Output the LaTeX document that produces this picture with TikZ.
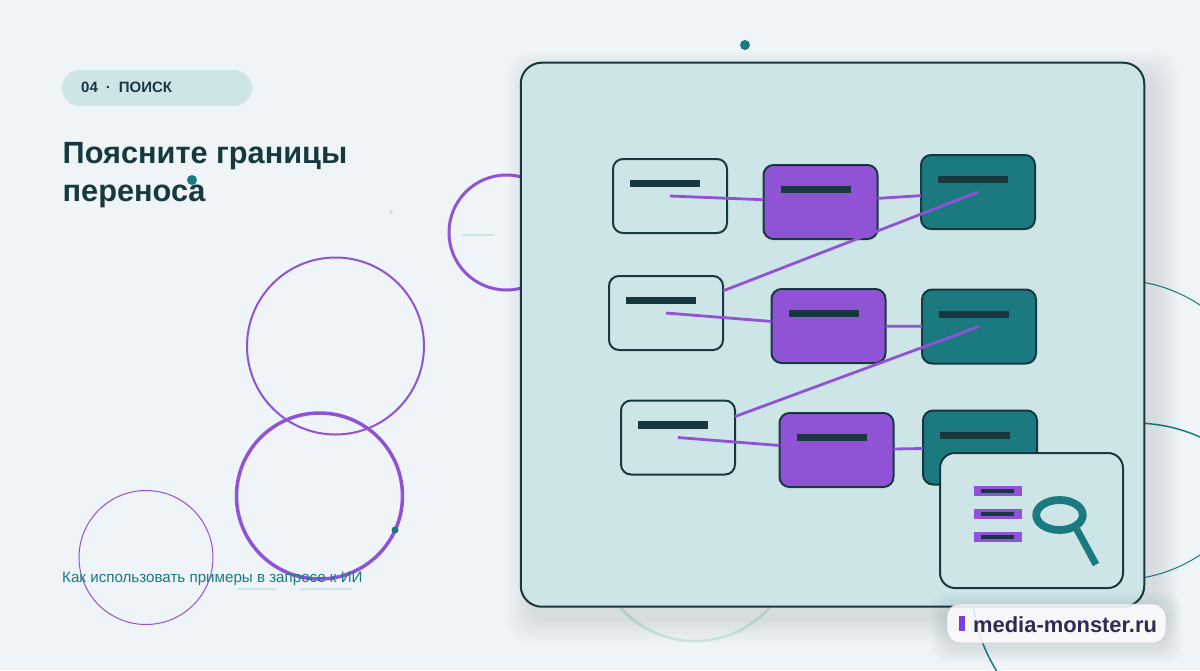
\documentclass[tikz,border=0pt]{standalone}
\usepackage{fontspec}
\setmainfont{Liberation Sans}
\definecolor{bgpage}{HTML}{EEF4F7}
\definecolor{pale}{HTML}{CEE5E7}
\definecolor{ink}{HTML}{17383F}
\definecolor{teal}{HTML}{1A7A80}
\definecolor{violet}{HTML}{9053D5}
\definecolor{sitetext}{HTML}{2F2B55}
\definecolor{siteaccent}{HTML}{7A3FE0}
\tikzset{
  srcbox/.style={draw=ink,line width=2pt,rounded corners=10pt,fill=pale,minimum width=114pt,minimum height=74pt,inner sep=0pt,outer sep=0pt},
  midbox/.style={srcbox,fill=violet},
  dstbox/.style={srcbox,fill=teal},
  barline/.style={fill=ink,minimum width=70pt,minimum height=7.5pt,inner sep=0pt,outer sep=0pt},
  tagbar/.style={fill=violet,minimum width=48pt,minimum height=9.5pt,inner sep=0pt,outer sep=0pt},
  tagline/.style={fill=ink,minimum width=33pt,minimum height=3.5pt,inner sep=0pt,outer sep=0pt},
  link/.style={draw=violet,line width=2.8pt},
  ring/.style={draw=violet},
  hair/.style={draw=pale,line width=1.5pt},
  dot/.style={fill=teal}
}
\begin{document}
\begin{tikzpicture}[x=1pt,y=-1pt]
    \useasboundingbox (0,0) rectangle (1200,670);
    \fill[bgpage] (0,0) rectangle (1200,670);
    % rings behind the panel
    \draw[ring,line width=3pt] (506.5,232.5) circle (57.5pt);
    \draw[ring,line width=2pt] (335.5,346) circle (88.5pt);
    \draw[ring,line width=3.5pt] (319.5,496) circle (83pt);
    \draw[ring,line width=1pt] (146,557.5) circle (67pt);
    \draw[teal,line width=1pt] (1117,430) circle (150pt);
    \draw[teal,line width=1.5pt] (1134,585) circle (162pt);
    \draw[pale,line width=2.5pt] (695,541) circle (100pt);
    \draw[hair] (462,235) -- (494,235);
    \draw[hair] (237,589) -- (276,589);
    \draw[hair] (300,589) -- (352,589);
    \fill[dot] (745,45) circle (5pt);
    \fill[dot] (192,180) circle (5pt);
    \fill[dot] (395,530) circle (3.5pt);
    \fill[pale] (391,212) circle (2pt);
    % left column
    \node[fill=pale,rounded corners=18pt,minimum width=190pt,minimum height=36pt,inner sep=0pt] (pill) at (157,88) {};
    \node[anchor=base west,inner sep=0pt,text=ink,font=\fontsize{15}{17}\selectfont\bfseries] (tag) at (81,92) {04\hspace{8pt}·\hspace{8pt}ПОИСК};
    \node[anchor=base west,inner sep=0pt,text=ink,font=\fontsize{30.7}{38}\selectfont\bfseries] (titleA) at (62.5,163) {Поясните границы};
    \node[anchor=base west,inner sep=0pt,text=ink,font=\fontsize{30.7}{38}\selectfont\bfseries] (titleB) at (62.5,201) {переноса};
    \node[anchor=base west,inner sep=0pt,text=teal,font=\fontsize{15.15}{18}\selectfont] (caption) at (62,582) {Как использовать примеры в запросе к ИИ};
    % panel
    \foreach \s in {2,4,...,24}
      \fill[ink,opacity=.009,rounded corners=22pt] (531-\s,75-\s) rectangle (1155+\s,619+\s);
    \node[draw=ink,line width=2pt,fill=pale,rounded corners=21pt,minimum width=623.5pt,minimum height=544pt,inner sep=0pt,outer sep=0pt] (panel) at (832.5,334.7) {};
    % boxes
    \node[srcbox] (srcA) at (670,196) {};
    \node[midbox] (midA) at (820.5,202) {};
    \node[dstbox] (dstA) at (978,192) {};
    \node[srcbox] (srcB) at (666,313) {};
    \node[midbox] (midB) at (828.5,326) {};
    \node[dstbox] (dstB) at (979,326.5) {};
    \node[srcbox] (srcC) at (678,437.5) {};
    \node[midbox] (midC) at (836.5,450) {};
    \node[dstbox] (dstC) at (980,447.5) {};
    \node[barline] (barSA) at (665,183.5) {}; \node[barline] (barMA) at (815.5,189.5) {};
    \node[barline] (barDA) at (973,179.5) {}; \node[barline] (barSB) at (661,300.5) {};
    \node[barline] (barMB) at (823.5,313.5) {}; \node[barline] (barDB) at (974,314.5) {};
    \node[barline] (barSC) at (673,425) {}; \node[barline] (barMC) at (831.5,437.5) {};
    \node[barline] (barDC) at (975,435.5) {};
    % connectors
    \draw[link] (srcA.center) -- (midA); \draw[link] (midA) -- (dstA);
    \draw[link] (dstA.center) -- (srcB);
    \draw[link] (srcB.center) -- (midB); \draw[link] (midB) -- (dstB);
    \draw[link] (dstB.center) -- (srcC);
    \draw[link] (srcC.center) -- (midC); \draw[link] (midC) -- (dstC);
    % search card
    \node[srcbox,rounded corners=15pt,minimum width=183pt,minimum height=135pt] (card) at (1031.5,520.5) {};
    \node[tagbar] (tagA) at (997.5,491) {}; \node[tagline] at (tagA) (lineA) {};
    \node[tagbar] (tagB) at (997.5,514) {}; \node[tagline] at (tagB) (lineB) {};
    \node[tagbar] (tagC) at (997.5,537) {}; \node[tagline] at (tagC) (lineC) {};
    \draw[teal,line width=7.8pt] (1059.5,515) ellipse (23.3pt and 15pt);
    \draw[teal,line width=7pt] (1075,526) -- (1096,564.5);
    % badge
    \foreach \s in {2,4,...,16}
      \fill[ink,opacity=.012,rounded corners=16pt] (947-\s,608-\s) rectangle (1166+\s,647+\s);
    \node[draw=black!18,line width=.8pt,fill=white,fill opacity=.86,rounded corners=13pt,minimum width=219pt,minimum height=39pt,inner sep=0pt] (badge) at (1056.5,623.5) {};
    \fill[siteaccent] (959,616) rectangle (965,631);
    \node[anchor=base west,inner sep=0pt,text=sitetext,font=\fontsize{21.9}{26}\selectfont\bfseries] (site) at (973,632) {media-monster.ru};
\end{tikzpicture}
\end{document}
